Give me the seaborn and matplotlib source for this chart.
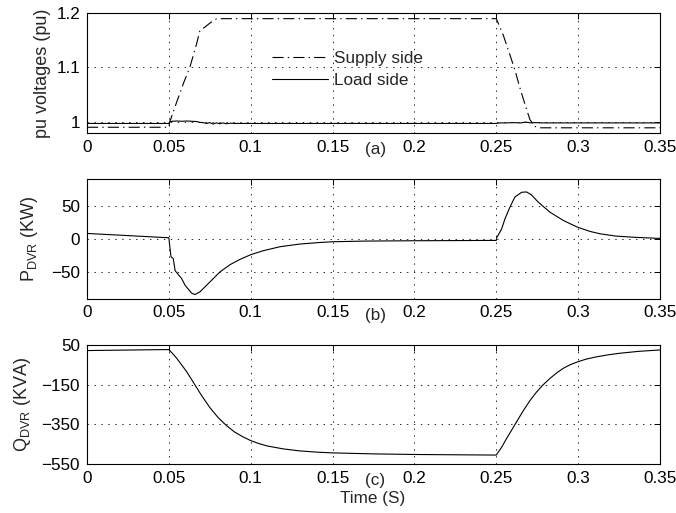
import matplotlib
matplotlib.use("Agg")
import matplotlib.pyplot as plt
import seaborn as sns
import numpy as np
import pandas as pd

# ---------------- data ----------------
t_supply = [0, 0.05, 0.0505, 0.0517, 0.0538, 0.0589, 0.0629, 0.067, 0.069, 0.0721,
            0.0751, 0.0792, 0.25, 0.2513, 0.2543, 0.2584, 0.2614, 0.2645, 0.2686,
            0.2706, 0.2737, 0.2767, 0.35]
v_supply = [0.99, 0.99, 0.999, 1.0097, 1.028, 1.0707, 1.1011, 1.1439, 1.1682, 1.1742,
            1.1815, 1.1896, 1.1896, 1.1804, 1.159, 1.1225, 1.095, 1.0616, 1.0219,
            1.0037, 0.9914, 0.989, 0.989]

t_load = [0, 0.05, 0.0505, 0.052, 0.055, 0.058, 0.061, 0.064, 0.067, 0.069, 0.071,
          0.073, 0.075, 0.077, 0.079, 0.081, 0.083, 0.085, 0.088, 0.09, 0.25, 0.252,
          0.256, 0.26, 0.265, 0.268, 0.271, 0.274, 0.278, 0.35]
v_load = [0.997, 0.997, 1.000, 1.001, 1.0015, 1.001, 1.0015, 1.001, 1.0005, 0.999,
          0.9985, 0.997, 0.9985, 0.996, 0.998, 0.9965, 0.998, 0.9965, 0.9975, 0.997,
          0.997, 0.998, 0.998, 0.9985, 0.998, 0.9995, 0.998, 0.9985, 0.998, 0.998]

t_p = [0, 0.05, 0.0505, 0.0513, 0.0527, 0.0538, 0.0558, 0.0578, 0.0599, 0.0619,
       0.0639, 0.066, 0.069, 0.0751, 0.0812, 0.0874, 0.0935, 0.1, 0.1077, 0.1179,
       0.13, 0.14, 0.15, 0.17, 0.2, 0.25, 0.2503, 0.2513, 0.2533, 0.2553, 0.2584,
       0.2614, 0.2655, 0.2685, 0.2715, 0.2757, 0.2828, 0.291, 0.2995, 0.3073, 0.3134,
       0.323, 0.336, 0.35]
p_dvr = [8, 1.5, -10, -27, -30, -48, -54, -60, -70, -76, -82, -84, -80, -65, -50,
         -39, -31, -24, -18, -12, -8, -6, -4.5, -3.5, -3, -2.5, 2, 6, 15, 30, 48, 63,
         70, 70.5, 66, 55, 40, 27.5, 17.5, 11, 7.5, 4, 2, 0.5]

t_q = [0, 0.05, 0.0525, 0.0548, 0.0578, 0.0609, 0.066, 0.07, 0.075, 0.08, 0.085, 0.09,
       0.095, 0.1, 0.105, 0.11, 0.12, 0.13, 0.14, 0.15, 0.175, 0.2, 0.25, 0.2533,
       0.2564, 0.2625, 0.2665, 0.2705, 0.2745, 0.2787, 0.283, 0.287, 0.291, 0.295,
       0.3, 0.305, 0.311, 0.318, 0.325, 0.337, 0.35]
q_dvr = [22, 27, 5, -17, -50, -85, -152, -205, -265, -315, -355, -388, -412, -432,
         -447, -459, -474, -484, -490, -494, -499, -502, -505, -465, -420, -336, -281,
         -231, -188, -150, -117, -90, -67, -50, -34, -21, -10, 0, 8, 18, 25]

x_ticks = [0, 0.05, 0.1, 0.15, 0.2, 0.25, 0.3, 0.35]
x_tick_labels = ["0", "0.05", "0.1", "0.15", "0.2", "0.25", "0.3", "0.35"]
a_yticks = [1.0, 1.1, 1.2]
a_ytick_labels = ["1", "1.1", "1.2"]
b_yticks = [-50, 0, 50]
b_ytick_labels = ["\u221250", "0", "50"]
c_yticks = [-550, -350, -150, 50]
c_ytick_labels = ["\u2212550", "\u2212350", "\u2212150", "50"]

# ---------------- styling ----------------
sns.set_style("white")
plt.rcParams["font.family"] = ["Liberation Sans", "DejaVu Sans"]
plt.rcParams["mathtext.fontset"] = "custom"
plt.rcParams["mathtext.rm"] = "Liberation Sans"
plt.rcParams["mathtext.it"] = "Liberation Sans:italic"
plt.rcParams["lines.scale_dashes"] = False
FS = 12.3
FL = 13

fig = plt.figure(figsize=(6.76, 5.13), dpi=100)
left, width = 87 / 676, 573 / 676
ax_a = fig.add_axes([left, 1 - 132.7 / 513, width, 119.7 / 513])
ax_b = fig.add_axes([left, 1 - 298.5 / 513, width, 119.5 / 513])
ax_c = fig.add_axes([left, 1 - 464 / 513, width, 119 / 513])

dashdot = (0, (8, 3, 1, 3))

df_s = pd.DataFrame({"t": t_supply, "v": v_supply})
df_l = pd.DataFrame({"t": t_load, "v": v_load})
sns.lineplot(data=df_s, x="t", y="v", ax=ax_a, color="k", lw=0.8, linestyle=dashdot,
             estimator=None, sort=False, label="Supply side")
sns.lineplot(data=df_l, x="t", y="v", ax=ax_a, color="k", lw=0.8,
             estimator=None, sort=False, label="Load side")

df_p = pd.DataFrame({"t": t_p, "p": p_dvr})
sns.lineplot(data=df_p, x="t", y="p", ax=ax_b, color="k", lw=0.8,
             estimator=None, sort=False, legend=False)

df_q = pd.DataFrame({"t": t_q, "q": q_dvr})
sns.lineplot(data=df_q, x="t", y="q", ax=ax_c, color="k", lw=0.8,
             estimator=None, sort=False, legend=False)

setups = [
    (ax_a, (0.98, 1.2), a_yticks, a_ytick_labels, "pu voltages (pu)", -0.062, "(a)"),
    (ax_b, (-90, 90), b_yticks, b_ytick_labels, "P$_{\\rm DVR}$ (KW)", -0.082, "(b)"),
    (ax_c, (-550, 50), c_yticks, c_ytick_labels, "Q$_{\\rm DVR}$ (KVA)", -0.094, "(c)"),
]
for ax, ylim, yt, ytl, ylab, lx, tag in setups:
    ax.set_xlim(0, 0.35)
    ax.set_ylim(*ylim)
    ax.set_xticks(x_ticks)
    ax.set_xticklabels(x_tick_labels, fontsize=FS)
    ax.set_yticks(yt)
    ax.set_yticklabels(ytl, fontsize=FS)
    ax.tick_params(direction="in", length=4, width=0.7, top=True, right=True,
                   colors="k", pad=5)
    ax.grid(True, color="0.15", linestyle=(0, (1, 4)), linewidth=0.7)
    for s in ax.spines.values():
        s.set_color("k")
        s.set_linewidth(0.8)
        s.set_visible(True)
    ax.set_xlabel("")
    ax.set_ylabel(ylab, fontsize=FL)
    ax.yaxis.set_label_coords(lx, 0.5)
    ax.text(0.503, -0.14, tag, transform=ax.transAxes, ha="center", va="center",
            fontsize=FS)

leg = ax_a.legend(loc="upper left", bbox_to_anchor=(0.323, 0.68), frameon=False,
                  fontsize=FS, handlelength=3.3, handletextpad=0.35,
                  borderpad=0, borderaxespad=0, labelspacing=0.4)

fig.text(373 / 676, 1 - 499 / 513, "Time (S)", ha="center", va="center", fontsize=FS)

fig.savefig("out.png", dpi=100)
